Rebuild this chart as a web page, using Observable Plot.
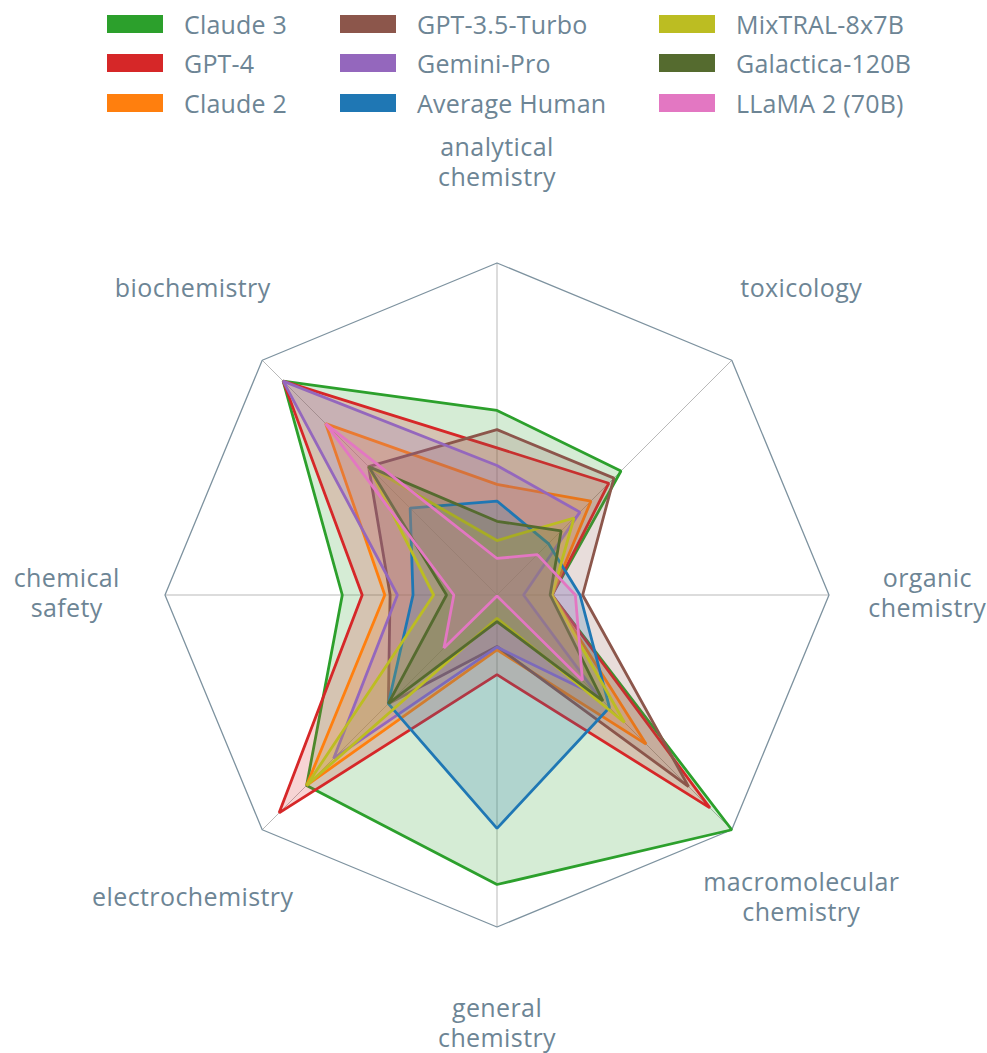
<!DOCTYPE html>
<html><head><meta charset="utf-8">
<script src="https://cdn.jsdelivr.net/npm/d3@7"></script>
<script src="https://cdn.jsdelivr.net/npm/@observablehq/plot@0.6"></script>
<style>
body{margin:0;background:#fff;font-family:"Open Sans",sans-serif;}
#legend{height:130px;box-sizing:border-box;padding:4px 0 0 107px;display:grid;grid-template-rows:repeat(3,39.5px);grid-auto-flow:column;grid-template-columns:233px 319px 300px;}
.item{display:flex;align-items:center;font-size:25px;letter-spacing:0.2px;color:#6d8595;white-space:nowrap;}
.sw{width:56px;height:18px;margin-right:21px;flex:none;}
#chart svg{display:block;}
</style></head><body>
<div id="legend"></div><div id="chart"></div>
<script>
const categories = ["analytical chemistry", "toxicology", "organic chemistry", "macromolecular chemistry", "general chemistry", "electrochemistry", "chemical safety", "biochemistry"];
const categoryLabels = ["analytical\nchemistry", "toxicology", "organic\nchemistry", "macromolecular\nchemistry", "general\nchemistry", "electrochemistry", "chemical\nsafety", "biochemistry"];
const models = ["Claude 3", "GPT-4", "Claude 2", "GPT-3.5-Turbo", "Gemini-Pro", "Average Human", "MixTRAL-8x7B", "Galactica-120B", "LLaMA 2 (70B)"];
const colors = ["#2ca02c", "#d62728", "#ff7f0e", "#8c564b", "#9467bd", "#1f77b4", "#bcbd22", "#556b2f", "#e377c2"];

const claude3   = [0.556, 0.528, 0.166, 1.000, 0.872, 0.811, 0.466, 0.911];
const gpt4      = [0.443, 0.476, 0.166, 0.907, 0.240, 0.928, 0.406, 0.911];
const claude2   = [0.333, 0.400, 0.166, 0.635, 0.165, 0.811, 0.338, 0.730];
const gpt35     = [0.498, 0.498, 0.258, 0.816, 0.155, 0.463, 0.322, 0.547];
const gemini    = [0.390, 0.353, 0.080, 0.432, 0.157, 0.696, 0.300, 0.911];
const human     = [0.283, 0.219, 0.250, 0.479, 0.703, 0.463, 0.253, 0.370];
const mixtral   = [0.164, 0.328, 0.166, 0.543, 0.070, 0.811, 0.191, 0.547];
const galactica = [0.222, 0.273, 0.160, 0.451, 0.080, 0.463, 0.152, 0.547];
const llama     = [0.110, 0.172, 0.236, 0.364, 0.003, 0.226, 0.130, 0.730];
const seriesValues = [claude3, gpt4, claude2, gpt35, gemini, human, mixtral, galactica, llama];

// legend
const legend = document.getElementById("legend");
models.forEach((m, i) => {
  const it = document.createElement("div"); it.className = "item";
  const sw = document.createElement("span"); sw.className = "sw"; sw.style.background = colors[i];
  it.appendChild(sw); it.appendChild(document.createTextNode(m));
  legend.appendChild(it);
});

const W = 987, H = 923, cx = 496.5, cy = 464.5, R = 332;
const ang = i => i * 2 * Math.PI / categories.length;
const axes = categories.map((c, i) => ({cat: c, label: categoryLabels[i], a: ang(i)}));
const rows = [];
models.forEach((m, k) => seriesValues[k].forEach((v, i) => rows.push({model: m, cat: categories[i], value: v, a: ang(i)})));

const textColor = "#6d8595";
const chart = Plot.plot({
  width: W, height: H,
  marginTop: 0, marginRight: 0, marginBottom: 0, marginLeft: 0,
  x: {domain: [-cx / R, (W - cx) / R], range: [0, W], axis: null},
  y: {domain: [-(H - cy) / R, cy / R], range: [H, 0], axis: null},
  color: {domain: models, range: colors},
  style: {fontFamily: "'Open Sans', sans-serif"},
  marks: [
    Plot.link(axes, {x1: () => 0, y1: () => 0, x2: d => Math.sin(d.a), y2: d => Math.cos(d.a), stroke: "#b9b9b9", strokeWidth: 1}),
    Plot.line(axes, {x: d => Math.sin(d.a), y: d => Math.cos(d.a), curve: "linear-closed", stroke: "#7d929f", strokeWidth: 1.3}),
    Plot.line(rows, {x: d => d.value * Math.sin(d.a), y: d => d.value * Math.cos(d.a), z: "model", curve: "linear-closed",
      stroke: "model", fill: "model", fillOpacity: 0.2, strokeWidth: 2.8, strokeLinejoin: "miter"}),
    Plot.text(axes, {x: d => 1.296 * Math.sin(d.a), y: d => 1.296 * Math.cos(d.a), text: "label", fontSize: 25, lineHeight: 1.2, dy: -3, fill: textColor,
      style: {letterSpacing: "0.4px"}})
  ]
});
chart.querySelectorAll("text").forEach(t => t.style.letterSpacing = "0.4px");
document.getElementById("chart").appendChild(chart);
</script>
</body></html>
